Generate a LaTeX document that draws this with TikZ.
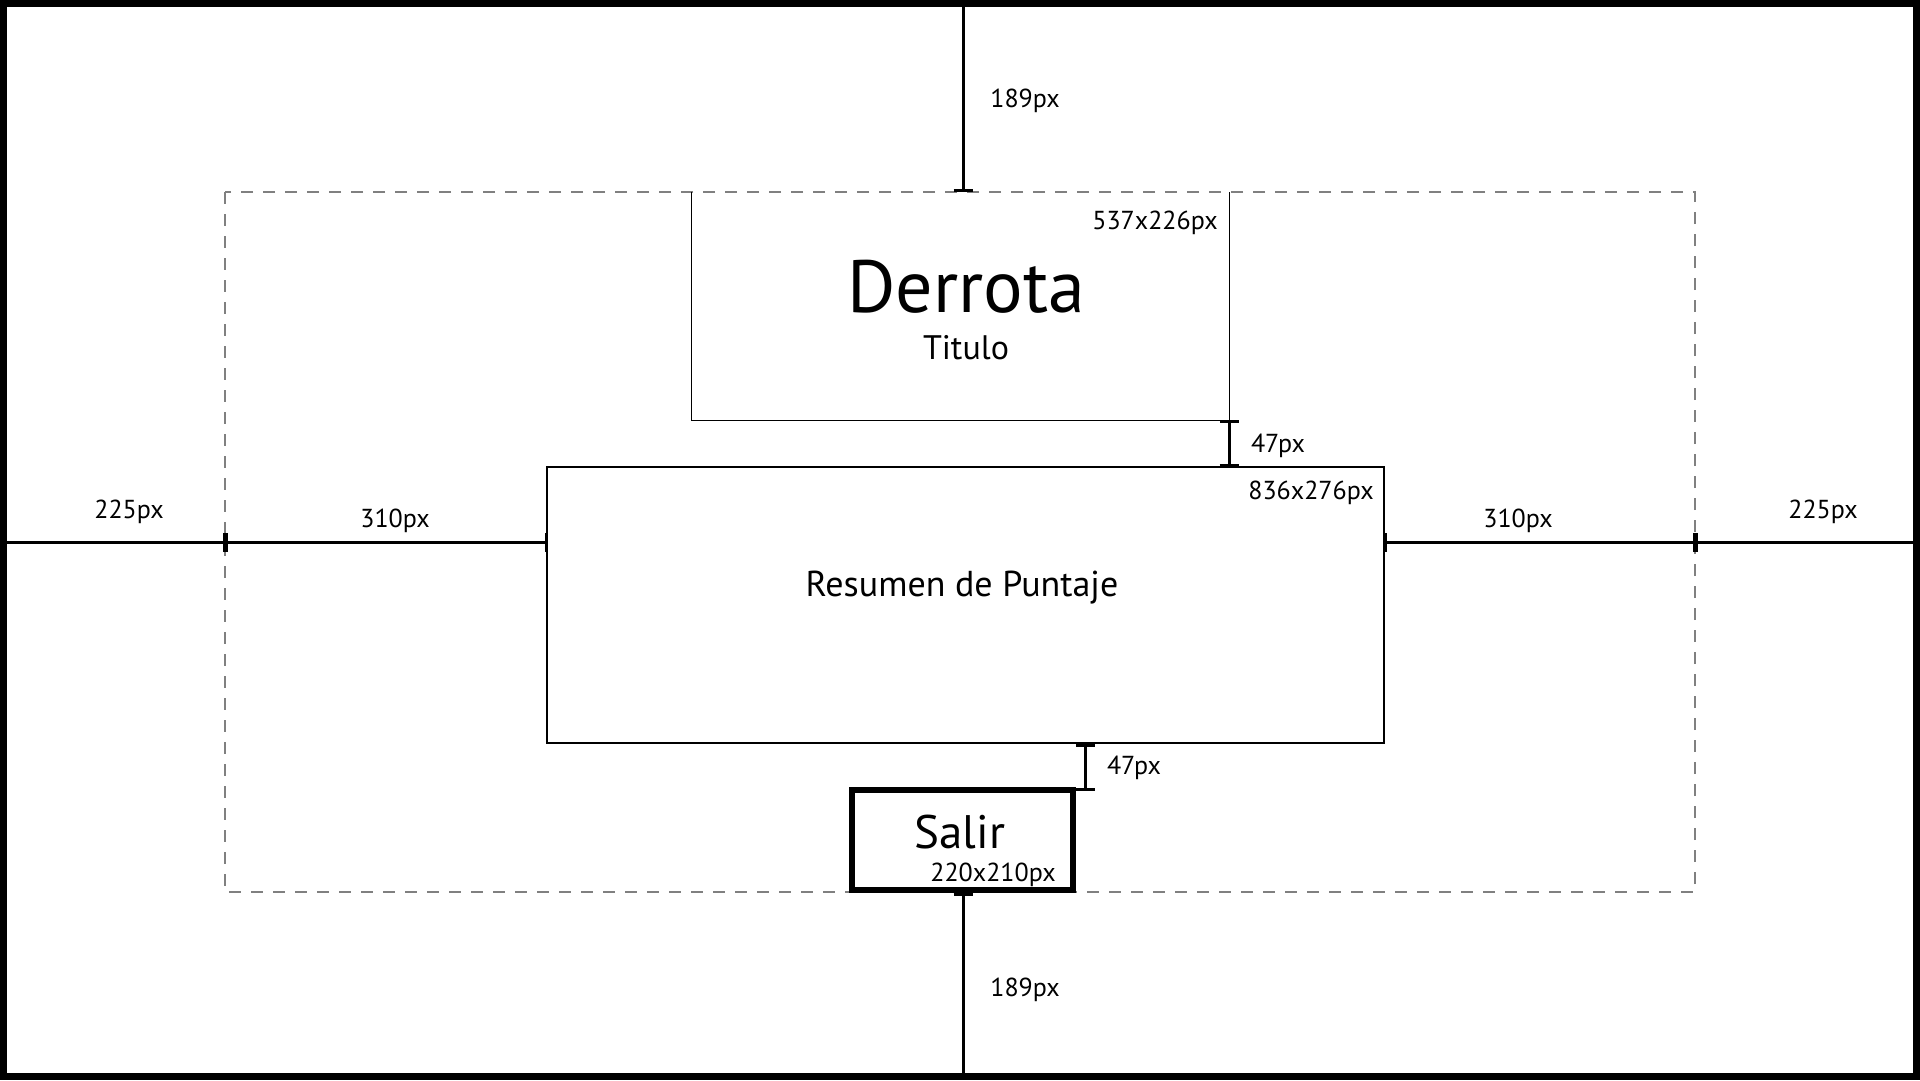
\documentclass[tikz,border=0pt]{standalone}
\usepackage{fontspec}
\setmainfont{PT Sans}
\begin{document}
\begin{tikzpicture}[x=1pt,y=-1pt,
  box/.style={draw=black,line width=1.3pt,inner sep=0pt},
  dim/.style={line width=3pt,black},
  guide/.style={draw=black!50,line width=2pt,dash pattern=on 12pt off 10pt},
  lbl/.style={font=\fontsize{26}{30}\selectfont,inner sep=0pt,anchor=base},
  txt/.style={inner sep=0pt,anchor=base}]
\useasboundingbox (0,0) rectangle (1920,1080);
\fill[white] (0,0) rectangle (1920,1080);
% frame
\draw[line width=7pt] (3.5,3.5) rectangle (1916.5,1076.5);
% safe area
\draw[guide] (225,192) rectangle (1695,892);
% boxes
\node[inner sep=0pt,minimum width=537pt,minimum height=228pt] (title) at (960.5,306) {};
\draw[line width=1.3pt] (title.north west) -- (title.south west) -- (title.south east) -- (title.north east);
\node[box,minimum width=837pt,minimum height=276pt] (resumen) at (965.5,605) {};
\node[box,line width=6pt,minimum width=221pt,minimum height=100pt] (salir) at (962.5,840) {};
% texts
\node[txt,font=\fontsize{74}{80}\selectfont] (tDerrota) at (966,312) {Derrota};
\node[txt,font=\fontsize{34}{40}\selectfont] (tTitulo) at (966,359) {Titulo};
\node[txt,font=\fontsize{36}{42}\selectfont] (tResumen) at (962,596) {Resumen de Puntaje};
\node[txt,font=\fontsize{47}{54}\selectfont] (tSalir) at (960,848) {Salir};
\node[lbl] (sTitle) at (1155,229) {537x226px};
\node[lbl] (sResumen) at (1311,499) {836x276px};
\node[lbl] (sSalir) at (993,881) {220x210px};
% coordinates
\coordinate (topEdge) at (963,7);
\coordinate (topGuide) at (963,190);
\coordinate (botEdge) at (963,1073);
\coordinate (botGuide) at (963,894);
\coordinate (leftEdge) at (7,542);
\coordinate (leftGuide) at (225,542);
\coordinate (leftBox) at (546,542);
\coordinate (rightEdge) at (1913,542);
\coordinate (rightGuide) at (1695,542);
\coordinate (rightBox) at (1385,542);
\coordinate (gapA1) at (1229,421.5);
\coordinate (gapA2) at (1229,465.5);
\coordinate (gapB1) at (1085.5,745);
\coordinate (gapB2) at (1085.5,789);
% top / bottom dimensions
\draw[dim] (topEdge) -- (topGuide);
\draw[dim] ([xshift=-9.5pt]topGuide) -- ([xshift=9.5pt]topGuide);
\draw[dim] (botGuide) -- (botEdge);
\draw[dim] ([xshift=-9.5pt]botGuide) -- ([xshift=9.5pt]botGuide);
\node[lbl] (l189a) at (1025,107) {189px};
\node[lbl] (l189b) at (1025,996) {189px};
% horizontal dimensions
\draw[dim] (leftEdge) -- (leftBox);
\draw[dim] (rightBox) -- (rightEdge);
\draw[line width=5pt] ([yshift=-9.5pt]leftGuide) -- ([yshift=9.5pt]leftGuide);
\draw[line width=5pt] ([yshift=-9.5pt]rightGuide) -- ([yshift=9.5pt]rightGuide);
\draw[dim] ([yshift=-9.5pt]leftBox) -- ([yshift=9.5pt]leftBox);
\draw[dim] ([yshift=-9.5pt]rightBox) -- ([yshift=9.5pt]rightBox);
\node[lbl] (l225a) at (129,518) {225px};
\node[lbl] (l310a) at (395,527) {310px};
\node[lbl] (l310b) at (1518,527) {310px};
\node[lbl] (l225b) at (1823,518) {225px};
% gaps
\draw[dim] (gapA1) -- (gapA2);
\draw[dim] ([xshift=-9.5pt]gapA1) -- ([xshift=9.5pt]gapA1);
\draw[dim] ([xshift=-9.5pt]gapA2) -- ([xshift=9.5pt]gapA2);
\node[lbl] (l47a) at (1278,452) {47px};
\draw[dim] (gapB1) -- (gapB2);
\draw[dim] ([xshift=-9.5pt]gapB1) -- ([xshift=9.5pt]gapB1);
\draw[dim] ([xshift=-9.5pt]gapB2) -- ([xshift=9.5pt]gapB2);
\node[lbl] (l47b) at (1134,774) {47px};
\end{tikzpicture}
\end{document}
